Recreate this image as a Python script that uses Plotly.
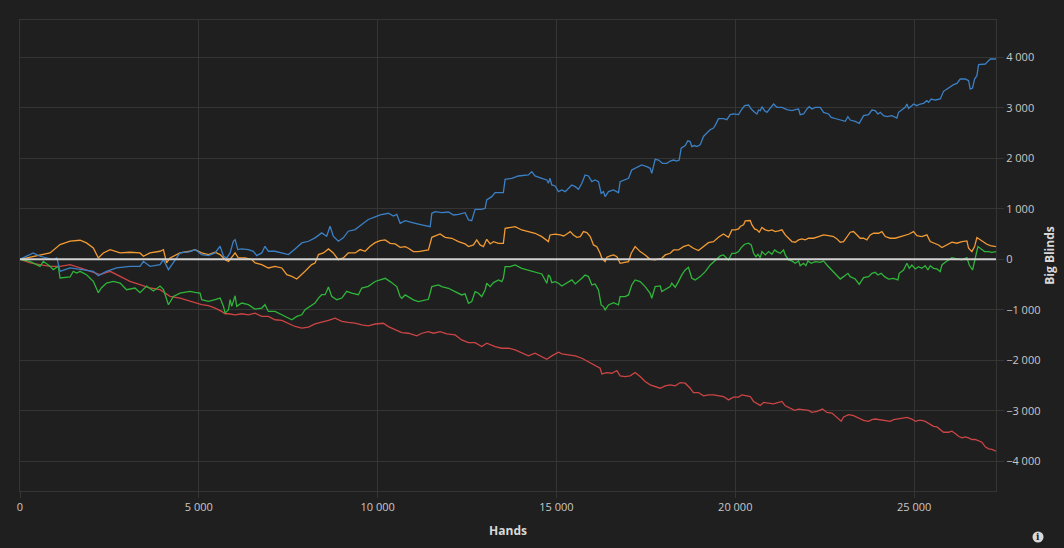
import plotly.graph_objects as go

# cumulative winnings in big blinds
blue_hands = [0, 370, 560, 750, 930, 1030, 1120, 1400, 1770, 2050, 2190, 2420, 2700, 3075, 3355, 3450, 3635, 3915, 4010, 4150, 4475, 4750,
              4895, 5080, 5270, 5455, 5595, 5690, 5780, 5875, 5965, 6015, 6090, 6200, 6385, 6525, 6620, 6760, 6850, 6945, 7130, 7320, 7505,
              7690, 7880, 8065, 8250, 8435, 8575, 8670, 8760, 8900, 9040, 9180, 9370, 9555, 9740, 9930,
              10070, 10300, 10440, 10535, 10630, 10770, 10860, 11050, 11235, 11375, 11470, 11515, 11610, 11795, 11980, 12120, 12260, 12445,
              12540, 12630, 12725, 12910, 13005, 13050, 13190, 13285, 13515, 13565, 13750, 13935, 14215, 14310, 14400, 14590, 14730, 14775,
              14820, 14870, 14964,
              15057, 15150, 15245, 15340, 15430, 15525, 15615, 15710, 15800, 15895, 15990, 16080, 16175, 16250, 16315, 16360, 16455, 16595,
              16735, 16780, 16920, 17015, 17105, 17200, 17385, 17525, 17620, 17665, 17760, 17855, 17965, 18086, 18180, 18273, 18366, 18431,
              18487, 18600, 18673, 18738, 18785, 18860, 18925, 19018, 19111, 19205, 19298, 19391, 19438, 19531, 19671, 19764, 19857, 19950,
              20092, 20167, 20260, 20372, 20446, 20540, 20605, 20650, 20700, 20745, 20820, 20885, 20978, 21071, 21164, 21304, 21444, 21583,
              21677, 21770, 21816, 21910, 22003, 22068, 22143, 22236, 22376, 22469, 22609, 22683, 22842, 22981, 23075, 23149, 23214, 23354,
              23466, 23587, 23727, 23820, 23913, 23988, 24053, 24146, 24240, 24379, 24519, 24566, 24659, 24752, 24799, 24845, 24938, 24985,
              25078, 25171, 25265, 25358, 25405, 25479, 25591, 25731, 25824, 25964, 26104, 26197, 26290, 26430, 26523, 26570, 26635, 26691,
              26756, 26803, 26896, 26990, 27036, 27130, 27288]
blue_bb = [0, 126, 60, 26, -7, 26, -238, -172, -205, -238, -324, -238, -172, -139, -139, -40, -139, -106, -7, -205, 126, 150,
           192, 93, 73, 126, 258, 60, 26, 126, 357, 390, 192, 205, 192, 159, 73, 126, 258, 159, 159, 126, 93,
           205, 324, 357, 424, 523, 457, 655, 457, 357, 424, 556, 589, 688, 788, 840,
           878, 911, 858, 891, 713, 766, 746, 713, 680, 660, 647, 911, 944, 924, 937, 878, 891, 924,
           779, 766, 990, 990, 1010, 1175, 1241, 1320, 1320, 1584, 1604, 1650, 1670, 1736, 1650, 1604, 1571, 1505,
           1604, 1472, 1452,
           1340, 1373, 1340, 1406, 1472, 1439, 1386, 1505, 1670, 1650, 1538, 1571, 1538, 1307, 1340, 1241, 1340, 1373,
           1320, 1538, 1571, 1604, 1769, 1802, 1868, 1835, 1802, 1703, 1980, 1967, 1900, 1900, 1946, 1966, 1946, 1966,
           2200, 2253, 2346, 2333, 2233, 2253, 2233, 2266, 2433, 2500, 2566, 2600, 2653, 2786, 2786, 2766, 2866, 2880,
           2865, 2957, 3043, 3056, 2977, 2911, 2878, 2957, 2944, 3023, 2944, 2911, 2997, 3076, 3010, 3010, 2964, 2944,
           2964, 2977, 2865, 2878, 2977, 3023, 2977, 3010, 3010, 2911, 2878, 2812, 2779, 2759, 2733, 2825, 2759, 2733,
           2693, 2845, 2865, 2957, 2944, 2878, 2911, 2845, 2825, 2845, 2799, 2911, 2957, 3010, 3076, 2990, 3043, 3076,
           3043, 3076, 3089, 3142, 3109, 3175, 3155, 3175, 3327, 3393, 3459, 3485, 3571, 3571, 3538, 3373, 3393, 3571,
           3637, 3855, 3855, 3868, 3901, 3967, 3967]

orange_hands = [0, 560, 840, 1120, 1400, 1680, 1860, 2050, 2190, 2330, 2520, 2800, 3075, 3355, 3450, 3635, 3915, 4010, 4100, 4195, 4475, 4750,
                4895, 4990, 5080, 5270, 5455, 5595, 5735, 5830, 5920, 6015, 6105, 6295, 6480, 6575, 6760, 6945, 7130, 7320, 7460, 7600,
                7740, 7880, 7970, 8155, 8250, 8345, 8485, 8625, 8760, 8900, 9040, 9180, 9370, 9510, 9650, 9790, 9930,
                10070, 10210, 10350, 10490, 10630, 10770, 10860, 11000, 11140, 11330, 11420, 11515, 11610, 11745, 11885, 12075, 12260,
                12445, 12540, 12680, 12770, 12865, 12960, 13050, 13145, 13240, 13380, 13515, 13565, 13705, 13845, 14030, 14215, 14400,
                14590, 14730, 14775, 14820, 14964,
                15105, 15200, 15290, 15385, 15475, 15570, 15665, 15755, 15850, 15945, 16035, 16130, 16220, 16270, 16360, 16410, 16500,
                16595, 16690, 16780, 16875, 17015, 17090, 17200, 17340, 17480, 17620, 17760, 17945, 18040, 18180, 18275, 18410, 18550,
                18690, 18830, 18970, 19110, 19250, 19390, 19530, 19670, 19810, 19905,
                19999, 20092, 20139, 20232, 20279, 20418, 20465, 20540, 20605, 20670, 20745, 20838, 20931, 21024, 21117, 21211, 21304,
                21397, 21490, 21583, 21677, 21770, 21863, 21956, 22049, 22189, 22329, 22469, 22609, 22748, 22842, 22935, 23028, 23121,
                23214, 23307, 23401, 23494, 23587, 23680, 23773, 23867, 24006, 24100, 24193, 24333, 24472, 24566, 24659, 24752, 24845,
                24985, 25078, 25218, 25358, 25451, 25591, 25684, 25778, 25917, 26057, 26197, 26337, 26477, 26523, 26616, 26691, 26756,
                26849, 26942, 27036, 27130, 27223, 27288]
orange_bb = [0, 93, 126, 291, 358, 377, 325, 225, 26, 126, 192, 126, 139, 126, 60, 126, 159, 192, -73, 26, 126, 159,
             192, 159, 126, 93, 139, 93, -7, -40, 46, 126, 26, 26, -7, -73, -106, -172, -139, -172, -305, -338,
             -390, -305, -238, -106, -73, 93, 126, 205, 126, -7, 26, 126, 126, 192, 159, 258, 330,
             370, 383, 317, 304, 238, 251, 218, 152, 152, 165, 185, 436, 462, 502, 436, 416, 350,
             304, 251, 284, 383, 284, 251, 396, 304, 350, 317, 317, 614, 634, 647, 581, 548, 515,
             449, 383, 350, 482, 500,
             482, 462, 502, 548, 482, 436, 449, 548, 528, 449, 284, 251, 119, 20, -46, 40, 66,
             86, 53, -79, -66, -46, 119, 251, 152, 86, 0, -13, 20, 86, 119, 185, 185, 251,
             284, 218, 172, 251, 330, 350, 436, 502, 436, 581,
             583, 602, 649, 682, 761, 768, 682, 602, 583, 536, 629, 583, 563, 583, 549, 563, 583,
             483, 417, 351, 338, 384, 404, 384, 417, 417, 450, 483, 470, 450, 404, 338, 351, 450,
             536, 549, 483, 417, 417, 384, 483, 516, 516, 549, 450, 417, 417, 437, 470, 483, 496,
             549, 470, 450, 483, 351, 317, 284, 232, 284, 338, 318, 351, 364, 218, 152, 252, 430,
             384, 351, 298, 271, 251, 251]

green_hands = [0, 280, 560, 650, 840, 930, 1070, 1120, 1400, 1490, 1585, 1680, 1860, 2050, 2190, 2280, 2420, 2610, 2800, 2980, 3215, 3355,
               3540, 3730, 3915, 4010, 4150, 4290, 4475, 4750,
               4895, 5035, 5080, 5270, 5455, 5595, 5690, 5735, 5830, 5875, 5920, 6015, 6060, 6200, 6385, 6570, 6760, 6850, 6945, 7130,
               7320, 7505, 7600, 7740, 7880, 7970, 8110, 8250, 8345, 8435, 8530, 8625, 8715, 8855, 9000, 9135, 9275, 9460, 9555, 9740, 9930,
               10070, 10210, 10350, 10535, 10630, 10675, 10770, 10860, 11000, 11140, 11330, 11420, 11515, 11700, 11795, 11980, 12165,
               12350, 12445, 12540, 12630, 12725, 12820, 12910, 13005, 13050, 13145, 13240, 13380, 13470, 13515, 13565, 13705, 13845,
               14030, 14215, 14400, 14590, 14730, 14775, 14820, 14870, 14964,
               15057, 15150, 15245, 15340, 15430, 15525, 15615, 15710, 15800, 15895, 15990, 16080, 16175, 16250, 16315, 16360, 16455,
               16595, 16735, 16780, 16920, 17015, 17105, 17200, 17340, 17480, 17620, 17665, 17760, 17900, 17945, 18085, 18180, 18225,
               18320, 18410, 18505, 18600, 18690, 18785, 18880, 19020, 19160, 19300, 19440, 19580, 19670, 19810, 19905,
               19999, 20092, 20167, 20260, 20372, 20446, 20512, 20577, 20633, 20698, 20745, 20838, 20931, 21024, 21099, 21164, 21257,
               21350, 21397, 21490, 21583, 21677, 21770, 21816, 21910, 21975, 22031, 22124, 22236, 22376, 22469, 22562, 22655, 22748,
               22842, 22935, 23028, 23149, 23214, 23354, 23466, 23587, 23727, 23820, 23913, 23988, 24080, 24174, 24286, 24426, 24547,
               24585, 24705, 24799, 24864, 24938, 25032, 25125, 25218, 25311, 25386, 25451, 25544, 25638, 25731, 25778, 25871, 25964,
               26057, 26197, 26337, 26477, 26542, 26635, 26710, 26784, 26877, 26970, 27082, 27176, 27288]
green_bb = [0, -40, -139, -40, -139, -205, -139, -371, -351, -238, -271, -238, -305, -437, -662, -563, -470, -437, -470, -602, -569, -662,
            -530, -629, -530, -596, -900, -735, -669, -636,
            -655, -669, -801, -834, -801, -768, -933, -1066, -999, -801, -933, -722, -933, -867, -900, -986, -966, -900, -1033, -1033,
            -1099, -1165, -1198, -1132, -1099, -999, -933, -867, -768, -702, -702, -549, -735, -801, -768, -636, -669, -702, -569, -536, -440,
            -409, -376, -442, -541, -739, -772, -706, -739, -805, -838, -805, -792, -541, -508, -541, -574, -640,
            -706, -686, -871, -838, -640, -673, -739, -607, -475, -541, -462, -409, -442, -376, -145, -145, -112,
            -178, -211, -244, -290, -475, -310, -343, -462, -442,
            -475, -528, -488, -442, -409, -488, -442, -376, -310, -343, -508, -488, -607, -904, -937, -1003, -904,
            -858, -904, -739, -739, -706, -508, -409, -442, -541, -673, -772, -541, -528, -640, -574, -541, -475,
            -554, -442, -310, -211, -158, -376, -409, -343, -244, -112, -13, 66, 86, -13, 119,
            119, 152, 232, 298, 318, 285, 119, 53, 99, 33, 152, 86, 152, 99, 185, 152, 119,
            185, 86, -13, -33, -79, -33, -126, -79, -126, -33, -79, -46, -60, -33, -113, -179, -245,
            -324, -391, -344, -278, -344, -391, -497, -364, -344, -278, -258, -311, -278, -344, -391, -377, -410,
            -278, -212, -79, -179, -113, -192, -146, -179, -126, -212, -126, -179, -192, -245, -113, -60, -13,
            33, 7, -13, 33, -113, -212, 20, 252, 205, 152, 152, 139, 152]

red_hands = [0, 280, 560, 840, 1120, 1400, 1680, 1960, 2240, 2520, 2800, 3075, 3355, 3635, 3915, 4195, 4475, 4750,
             4895, 5080, 5270, 5455, 5640, 5735, 5830, 6015, 6200, 6385, 6570, 6760, 6945, 7130, 7320, 7505, 7690, 7880, 8065,
             8250, 8435, 8625, 8810, 9000, 9180, 9370, 9555, 9740, 9930,
             10160, 10300, 10490, 10675, 10860, 11095, 11235, 11420, 11560, 11745, 11935, 12165, 12350, 12540, 12725, 12910, 13050,
             13285, 13470, 13660, 13845, 14030, 14215, 14400, 14590, 14730, 14870, 15055,
             15150, 15340, 15525, 15710, 15895, 16080, 16220, 16270, 16410, 16550, 16690, 16780, 16920, 17060, 17200, 17340, 17480,
             17620, 17760, 17900, 18040, 18180, 18320, 18460, 18600, 18740, 18830, 18970, 19110, 19250, 19390, 19530, 19670, 19810, 19950,
             20092, 20186, 20326, 20419, 20512, 20605, 20698, 20791, 20931, 21071, 21211, 21304, 21397, 21537, 21658, 21770, 21910,
             22049, 22143, 22283, 22441, 22562, 22702, 22842, 22963, 23028, 23168, 23307, 23447, 23587, 23727, 23820, 23913, 24053,
             24193, 24333, 24426, 24566, 24705, 24799, 24938, 25032, 25125, 25218, 25311, 25405, 25544, 25638, 25731, 25824, 25964,
             26057, 26150, 26244, 26337, 26430, 26523, 26616, 26710, 26803, 26896, 26990, 27083, 27176, 27288]
red_bb = [0, -73, -106, -139, -139, -106, -172, -238, -305, -238, -338, -437, -503, -569, -602, -735, -768, -834,
          -867, -900, -920, -966, -1033, -1079, -1079, -1099, -1079, -1099, -1066, -1132, -1132, -1198, -1212, -1265, -1331, -1364, -1344,
          -1278, -1251, -1212, -1165, -1231, -1251, -1265, -1298, -1318, -1282,
          -1267, -1333, -1399, -1452, -1465, -1518, -1465, -1432, -1465, -1432, -1478, -1498, -1597, -1650, -1650, -1729, -1663,
          -1729, -1762, -1762, -1795, -1861, -1914, -1861, -1927, -1980, -1914, -1840,
          -1874, -1894, -1914, -1960, -2026, -2092, -2158, -2270, -2244, -2257, -2204, -2310, -2323, -2310, -2244, -2323, -2422,
          -2488, -2521, -2554, -2508, -2488, -2508, -2442, -2455, -2554, -2640, -2640, -2706, -2686, -2686, -2706, -2719, -2785, -2732,
          -2731, -2685, -2705, -2718, -2816, -2849, -2895, -2836, -2849, -2862, -2836, -2816, -2902, -2948, -2993, -2967, -2980,
          -2993, -3033, -3013, -2967, -3033, -3046, -3124, -3210, -3124, -3079, -3098, -3144, -3190, -3210, -3177, -3164, -3177,
          -3190, -3210, -3177, -3164, -3144, -3131, -3164, -3210, -3190, -3190, -3210, -3256, -3308, -3321, -3374, -3426, -3426,
          -3406, -3452, -3505, -3537, -3518, -3537, -3570, -3570, -3603, -3623, -3714, -3754, -3767, -3800]

BG = '#1f1f1f'
GRID = '#353535'
FONT = 'Open Sans, Noto Sans, sans-serif'
TICK_FONT = dict(family=FONT, size=11, color='#c8c8c8')
TITLE_FONT = dict(family=FONT, size=12, color='#d8d8d8')

fig = go.Figure()
fig.add_trace(go.Scatter(x=red_hands, y=red_bb, mode='lines', line=dict(color='#cc4444', width=1.3)))
fig.add_trace(go.Scatter(x=green_hands, y=green_bb, mode='lines', line=dict(color='#2fb53a', width=1.3)))
fig.add_trace(go.Scatter(x=orange_hands, y=orange_bb, mode='lines', line=dict(color='#f29a33', width=1.3)))
fig.add_trace(go.Scatter(x=blue_hands, y=blue_bb, mode='lines', line=dict(color='#3b80c4', width=1.3)))

# zero line drawn over the series
fig.add_shape(type='line', xref='paper', yref='y', x0=0, x1=1, y0=0, y1=0,
              line=dict(color='#d2d2d2', width=2), layer='above')

# little info badge in the bottom right corner
fig.add_shape(type='circle', xref='paper', yref='paper', x0=1.0374, x1=1.0487, y0=-0.1094, y1=-0.0860,
              fillcolor='#d8d8d8', line=dict(width=0), layer='below')
fig.add_annotation(xref='paper', yref='paper', x=1.0431, y=-0.0977, text='<b>i</b>', showarrow=False,
                   xanchor='center', yanchor='middle', borderpad=0,
                   font=dict(family='DejaVu Serif', size=9, color='#1f1f1f'))

fig.update_layout(
    template='none',
    width=1064, height=548,
    margin=dict(l=20, r=68, t=20, b=57),
    paper_bgcolor=BG, plot_bgcolor=BG,
    showlegend=False,
    separators='. ',
    xaxis=dict(range=[0, 27290], dtick=5000, tick0=0, tickformat=',d',
               showgrid=True, gridcolor=GRID, gridwidth=1, zeroline=False,
               showline=True, linecolor=GRID, linewidth=1, mirror=True,
               ticks='outside', ticklen=6, tickcolor=GRID, tickfont=TICK_FONT,
               title=dict(text='<b>Hands</b>', standoff=13, font=TITLE_FONT)),
    yaxis=dict(range=[-4590, 4740], dtick=1000, tick0=0, tickformat=',d', side='right',
               showgrid=True, gridcolor=GRID, gridwidth=1, zeroline=False,
               showline=True, linecolor=GRID, linewidth=1, mirror=True,
               ticks='outside', ticklen=7, tickcolor=GRID, tickfont=TICK_FONT,
               title=dict(text='<b>Big Blinds</b>', standoff=6, font=TITLE_FONT)),
)

# page has no margin of its own so the dark figure fills the window
fig.write_html("out.html", config={'displayModeBar': False},
               post_script="document.body.style.margin='0';document.body.style.background='#1f1f1f';")
